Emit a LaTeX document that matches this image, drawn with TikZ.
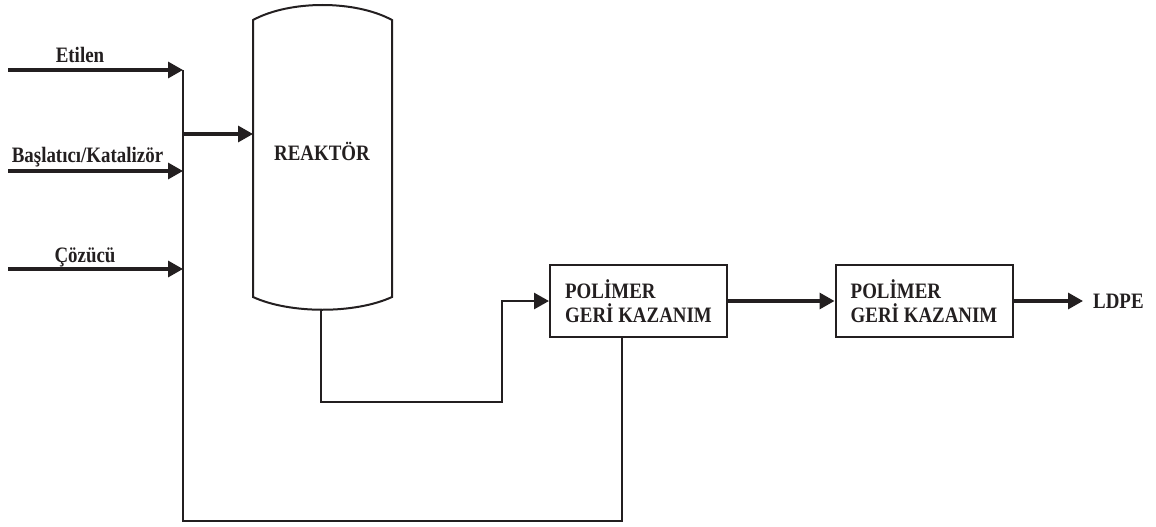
\documentclass[tikz,border=0pt]{standalone}
\usepackage{fontspec}
\setmainfont{Liberation Serif}[FakeStretch=0.86]
\usetikzlibrary{arrows.meta}
\definecolor{ink}{RGB}{35,31,32}
\begin{document}
\begin{tikzpicture}[x=1pt,y=-1pt,
  every node/.style={text=ink,font=\bfseries\fontsize{22}{24}\selectfont},
  feed/.style={draw=ink,line width=3.2pt,-{Triangle[length=15pt,width=16pt]}},
  pipe/.style={draw=ink,line width=2.4pt},
  pipearr/.style={draw=ink,line width=2.8pt,-{Triangle[length=15pt,width=16pt]}},
  unitbox/.style={draw=ink,line width=2pt,minimum width=177pt,minimum height=72pt,align=left,inner sep=0pt},
  lbl/.style={inner sep=0pt,anchor=base}]
\useasboundingbox (0,0) rectangle (1156,527);

% reactor vessel
\draw[ink,line width=2pt]
  (253,20) -- (253,297) .. controls (290,314) and (355,314) .. (392,297)
  -- (392,20) .. controls (355,0) and (290,0) .. (253,20) -- cycle;
\node[lbl] (reaktor) at (322,160) {REAKTÖR};
\coordinate (rIn) at (253,134);
\coordinate (rOut) at (321,310);

% input labels
\node[lbl] (etilen) at (80,63) {Etilen};
\node[lbl] (baslatici) at (87.5,162) {Başlatıcı/Katalizör};
\node[lbl] (cozucu) at (85,262) {Çözücü};

% input line endpoints
\coordinate (e0) at (8,70);   \coordinate (e1) at (183,70);
\coordinate (b0) at (8,171);  \coordinate (b1) at (183,171);
\coordinate (c0) at (8,269);  \coordinate (c1) at (183,269);
\coordinate (mix) at (183,134);
\coordinate (cBot) at (183,521);

% units
\node[unitbox] (box1) at (638.5,301) {POLİMER\\GERİ KAZANIM};
\node[unitbox] (box2) at (924,301) {POLİMER\\GERİ KAZANIM};
\node[inner sep=0pt,inner xsep=10pt,anchor=west] (ldpe) at (1083,301) {LDPE};

% feeds
\draw[feed] (e0) -- (e1);
\draw[feed] (b0) -- (b1);
\draw[feed] (c0) -- (c1);
\draw[feed] (mix) -- (rIn);

% recycle from box1 back to the collector
\draw[pipe] (box1.south -| 622,0) -- (622,521) -- (cBot) -- (e1);

% reactor outlet to box1
\coordinate (bend) at (502,402);
\draw[pipearr] (rOut) |- (bend) |- (box1.west);

% box1 -> box2 -> LDPE
\draw[feed] (box1.east) -- (box2.west);
\draw[feed] (box2.east) -- (box2.east -| ldpe.west);
\end{tikzpicture}
\end{document}
